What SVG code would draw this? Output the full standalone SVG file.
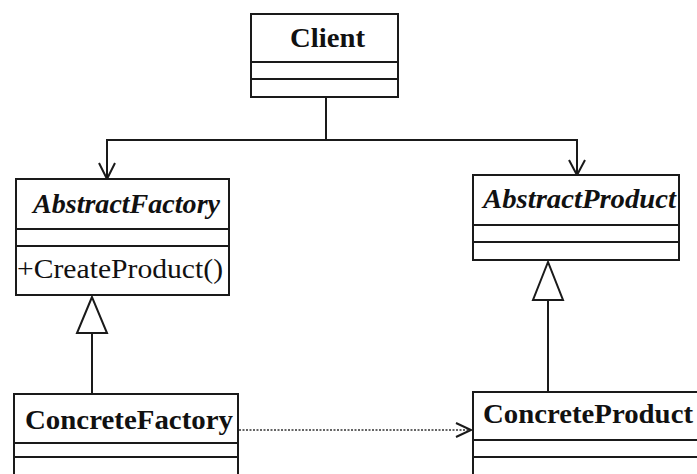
<svg xmlns="http://www.w3.org/2000/svg" width="697" height="474" viewBox="0 0 697 474">
<defs>
<style>
.box{fill:#fff;stroke:#1a1a1a;stroke-width:2}
.ln{fill:none;stroke:#1a1a1a;stroke-width:2}
.dot{fill:none;stroke:#333;stroke-width:1.5;stroke-dasharray:2 1.5}
.hd{fill:none;stroke:#1a1a1a;stroke-width:2;stroke-linejoin:miter}
.tri{fill:#fff;stroke:#1a1a1a;stroke-width:2}
.t{font-family:"Liberation Serif","Times New Roman",serif;font-size:28px;fill:#111}
.b{font-weight:bold}
.i{font-style:italic;font-weight:bold}
</style>
</defs>
<rect width="697" height="474" fill="#fff"/>
<g id="connectors">
<polyline class="ln" points="326,97 326,140"/>
<polyline class="ln" points="107,178 107,140 577,140 577,175"/>
<polyline class="hd" points="99,163 107,179 115,163"/>
<polyline class="hd" points="569,160 577,175 585,160"/>
<line class="ln" x1="92" y1="333" x2="92" y2="394"/>
<polygon class="tri" points="92,297 77,333 107,333"/>
<line class="ln" x1="548" y1="300" x2="548" y2="392"/>
<polygon class="tri" points="548,262 533,300 563,300"/>
<line class="dot" x1="239" y1="430" x2="470" y2="430"/>
<polyline class="hd" points="456,423 471,430 456,437"/>
</g>
<g id="Client">
<rect class="box" x="251" y="14" width="147" height="83"/>
<line class="ln" x1="251" y1="62" x2="398" y2="62"/>
<line class="ln" x1="251" y1="79" x2="398" y2="79"/>
<text class="t b" x="290" y="47" textLength="75" lengthAdjust="spacingAndGlyphs">Client</text>
</g>
<g id="AbstractFactory">
<rect class="box" x="16" y="179" width="213" height="116"/>
<line class="ln" x1="16" y1="229" x2="229" y2="229"/>
<line class="ln" x1="16" y1="246" x2="229" y2="246"/>
<text class="t i" x="33" y="213" textLength="187" lengthAdjust="spacingAndGlyphs">AbstractFactory</text>
<text class="t" x="17" y="278" textLength="206" lengthAdjust="spacingAndGlyphs">+CreateProduct()</text>
</g>
<g id="AbstractProduct">
<rect class="box" x="473" y="175" width="206" height="85"/>
<line class="ln" x1="473" y1="225" x2="679" y2="225"/>
<line class="ln" x1="473" y1="242" x2="679" y2="242"/>
<text class="t i" x="483" y="208" textLength="193" lengthAdjust="spacingAndGlyphs">AbstractProduct</text>
</g>
<g id="ConcreteFactory">
<rect class="box" x="14" y="394" width="224" height="100"/>
<line class="ln" x1="14" y1="443" x2="238" y2="443"/>
<line class="ln" x1="14" y1="457" x2="238" y2="457"/>
<text class="t b" x="25" y="429" textLength="208" lengthAdjust="spacingAndGlyphs">ConcreteFactory</text>
</g>
<g id="ConcreteProduct">
<rect class="box" x="473" y="392" width="240" height="100"/>
<line class="ln" x1="473" y1="440" x2="713" y2="440"/>
<line class="ln" x1="473" y1="457" x2="713" y2="457"/>
<text class="t b" x="483" y="423" textLength="210" lengthAdjust="spacingAndGlyphs">ConcreteProduct</text>
</g>
</svg>
